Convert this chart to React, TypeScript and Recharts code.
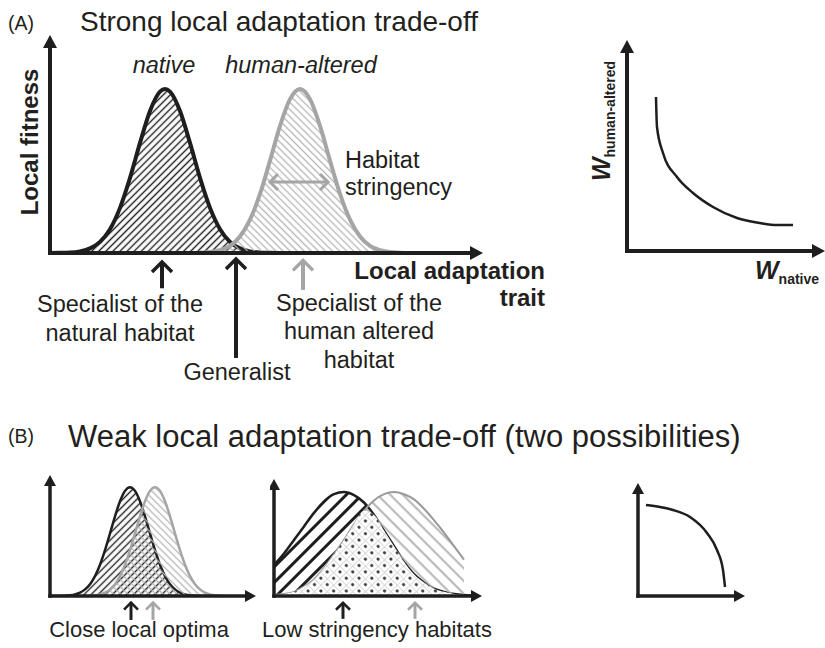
import React from 'react';
import { ComposedChart, Area, Line, XAxis, YAxis, ReferenceLine } from 'recharts';

const INK = '#1e1e1e';
const GREY = '#a5a5a5';
const TEXT = '#231f20';
const FONT = '"Liberation Sans", Arial, Helvetica, sans-serif';

// (A) strong trade-off: local fitness along the trait (trait measured from the y axis)
const traitA = [0, 10, 20, 30, 40, 50, 60, 70, 80, 90, 100, 110, 115, 120, 130, 140, 150, 160, 170, 180, 190, 200, 210, 220, 230, 240, 250, 260, 270, 280, 290, 300, 310, 320, 330, 340, 350, 360];
const nativeA = [0, 0.001, 0.003, 0.01, 0.028, 0.068, 0.145, 0.275, 0.458, 0.671, 0.866, 0.984, 1, 0.984, 0.866, 0.671, 0.458, 0.275, 0.145, 0.068, 0.028, 0.01, 0.003, 0.001, 0, null, null, null, null, null, null, null, null, null, null, null, null, null];
const alteredA = [null, null, null, null, null, null, null, null, null, null, null, null, null, null, null, 0, 0.002, 0.006, 0.017, 0.044, 0.101, 0.203, 0.36, 0.563, 0.775, 0.938, 1, 0.938, 0.775, 0.563, 0.36, 0.203, 0.101, 0.044, 0.017, 0.006, 0.002, 0];
const optimaA = [112, 186, 253]; // native specialist, generalist, human-altered specialist
const stringencyA = [220, 278];

// (A) fitness trade-off curve
const wNativeA = [29, 30, 36, 50, 66, 86, 110, 133, 150, 166];
const wAlteredA = [154, 124, 98, 74, 58, 44, 33, 28, 26, 26];

// (B) close local optima
const traitB1 = [0, 5, 10, 15, 20, 25, 30, 35, 40, 45, 50, 55, 60, 65, 70, 75, 80, 85, 90, 95, 100, 105, 110, 115, 120, 125, 130, 135, 140, 145, 150, 155, 160, 165, 170, 175];
const nativeB1 = [0, 0, 0.001, 0.003, 0.007, 0.015, 0.031, 0.061, 0.109, 0.183, 0.287, 0.421, 0.575, 0.732, 0.871, 0.966, 1, 0.966, 0.871, 0.732, 0.575, 0.421, 0.287, 0.183, 0.109, 0.061, 0.031, 0.015, 0.007, 0.003, 0.001, 0, null, null, null, null];
const alteredB1 = [null, null, null, null, null, null, null, 0.001, 0.003, 0.007, 0.015, 0.031, 0.061, 0.109, 0.183, 0.287, 0.421, 0.575, 0.732, 0.871, 0.966, 1, 0.966, 0.871, 0.732, 0.575, 0.421, 0.287, 0.183, 0.109, 0.061, 0.031, 0.015, 0.007, 0.003, 0.001];
const optimaB1 = [81, 103];

// (B) low stringency habitats
const traitB2 = [0, 10, 20, 30, 40, 50, 60, 70, 80, 90, 100, 110, 120, 130, 140, 150, 160, 170, 180, 190, 200];
const nativeB2 = [0.3, 0.41, 0.54, 0.67, 0.8, 0.91, 0.98, 1, 0.97, 0.9, 0.78, 0.63, 0.48, 0.33, 0.21, 0.13, 0.07, 0.04, 0.02, 0.01, 0];
const alteredB2 = [0.01, 0.02, 0.04, 0.09, 0.16, 0.27, 0.4, 0.54, 0.69, 0.82, 0.92, 0.98, 1, 0.98, 0.93, 0.84, 0.73, 0.61, 0.48, 0.35, null];
const optimaB2 = [69, 141];

// (B) weak trade-off curve
const wNativeB = [8, 22, 35, 52, 69, 79, 85, 87];
const wAlteredB = [91, 89, 86, 79, 63, 46, 26, 9];

const rowsA = traitA.map((t, i) => ({ t, native: nativeA[i], altered: alteredA[i] }));
const rowsB1 = traitB1.map((t, i) => ({ t, native: nativeB1[i], altered: alteredB1[i] }));
const rowsB2 = traitB2.map((t, i) => ({
  t,
  native: nativeB2[i],
  altered: alteredB2[i],
  shared: alteredB2[i] == null ? null : Math.min(nativeB2[i], alteredB2[i] as number),
}));
const curveA = wNativeA.map((w, i) => ({ t: w, h: wAlteredA[i] }));
const curveB = wNativeB.map((w, i) => ({ t: w, h: wAlteredB[i] }));

const Head = ({ id, len, half }: any) => (
  <marker id={id} viewBox={`0 ${-half} ${len} ${2 * half}`} refX={1} refY={0} markerWidth={len} markerHeight={2 * half}
    markerUnits="userSpaceOnUse" orient="auto-start-reverse" overflow="visible">
    <path d={`M0,${-half} L${len},0 L0,${half} Z`} fill={INK} />
  </marker>
);

const Chevron = ({ id, color, len, half, sw }: any) => (
  <marker id={id} viewBox={`0 ${-half} ${len} ${2 * half}`} refX={len} refY={0} markerWidth={len} markerHeight={2 * half}
    markerUnits="userSpaceOnUse" orient="auto-start-reverse" overflow="visible">
    <path d={`M0,${-half} L${len},0 L0,${half}`} fill="none" stroke={color} strokeWidth={sw} />
  </marker>
);

const Hatch = ({ id, color, gap, sw, angle }: any) => (
  <pattern id={id} width={gap} height={gap} patternUnits="userSpaceOnUse" patternTransform={`rotate(${angle})`}>
    <line x1={gap / 2} y1={-1} x2={gap / 2} y2={gap + 1} stroke={color} strokeWidth={sw} />
  </pattern>
);

const Txt = ({ x, y, align = 'center', size = 23.5, style, children }: any) => {
  const tx = align === 'center' ? '-50%' : align === 'right' ? '-100%' : '0';
  return (
    <div style={{ position: 'absolute', left: x, top: y, transform: `translate(${tx}, -50%)`, whiteSpace: 'nowrap', lineHeight: 1, fontSize: size, color: TEXT, ...style }}>
      {children}
    </div>
  );
};

// axes are 1px "thick" areas (a 0-size axis is not drawn), margins are reduced by 1 to compensate
const xAx = (domain: number[], head: string, sw: number) => (
  <XAxis type="number" dataKey="t" domain={domain} allowDataOverflow height={1} tick={false} tickLine={false}
    axisLine={{ stroke: INK, strokeWidth: sw, strokeLinecap: 'square', markerEnd: `url(#${head})` } as any} />
);
const yAx = (domain: number[], head: string, sw: number) => (
  <YAxis type="number" domain={domain} allowDataOverflow width={1} tick={false} tickLine={false}
    axisLine={{ stroke: INK, strokeWidth: sw, strokeLinecap: 'square', markerStart: `url(#${head})` } as any} />
);

const arrow = (x: number, y1: number, y2: number, color: string, sw: number, head: string, key: string) => (
  <ReferenceLine key={key} segment={[{ x, y: y2 }, { x, y: y1 }]} stroke={color} strokeWidth={sw}
    markerEnd={`url(#${head})`} ifOverflow="visible" />
);

export default function App() {
  return (
    <div style={{ position: 'absolute', left: 0, top: 0, width: 825, height: 648, background: '#fff', fontFamily: FONT, overflow: 'hidden' }}>
      <svg width={0} height={0} style={{ position: 'absolute' }}>
        <defs>
          <Head id="headA" len={13} half={7} />
          <Head id="headB" len={11} half={6} />
          <Chevron id="chevK" color={INK} len={10} half={10} sw={3.5} />
          <Chevron id="chevG" color={GREY} len={10} half={10} sw={3.5} />
          <Chevron id="chevG2" color={GREY} len={8} half={8} sw={3} />
          <Chevron id="chevKs" color={INK} len={7} half={7} sw={2.5} />
          <Chevron id="chevGs" color={GREY} len={7} half={7} sw={2.5} />
          <Hatch id="hatchK" color={INK} gap={5} sw={1.4} angle={45} />
          <Hatch id="hatchG" color="#b5b5b5" gap={5} sw={1.3} angle={-45} />
          <Hatch id="hatchK2" color={INK} gap={11} sw={3} angle={45} />
          <Hatch id="hatchG2" color="#ababab" gap={9} sw={1.8} angle={-45} />
          <pattern id="dots" width={9} height={9} patternUnits="userSpaceOnUse" patternTransform="rotate(45)">
            <rect width={9} height={9} fill="#fff" />
            <line x1={0} y1={0} x2={9} y2={0} stroke="#c4c4c4" strokeWidth={1.2} />
            <line x1={0} y1={0} x2={0} y2={9} stroke="#c4c4c4" strokeWidth={1.2} />
            <circle cx={4.5} cy={4.5} r={1.6} fill="#333" />
          </pattern>
        </defs>
      </svg>

      {/* (A) fitness curves */}
      <div style={{ position: 'absolute', left: 0, top: 0 }}>
        <ComposedChart width={560} height={380} data={rowsA} margin={{ top: 47, left: 49, right: 89, bottom: 126 }}>
          {xAx([0, 421], 'headA', 4)}
          {yAx([0, 1.256], 'headA', 4)}
          <Area type="monotone" dataKey="native" stroke={INK} strokeWidth={4} fill="url(#hatchK)" fillOpacity={1} isAnimationActive={false} />
          <Area type="monotone" dataKey="altered" stroke={GREY} strokeWidth={4} fill="url(#hatchG)" fillOpacity={1} isAnimationActive={false} />
          <ReferenceLine segment={[{ x: stringencyA[0], y: 0.433 }, { x: stringencyA[1], y: 0.433 }]} stroke={GREY} strokeWidth={3}
            markerStart="url(#chevG2)" markerEnd="url(#chevG2)" ifOverflow="visible" />
          {arrow(optimaA[0], -0.055, -0.215, INK, 4, 'chevK', 'a0')}
          {arrow(optimaA[1], -0.037, -0.64, INK, 4, 'chevK', 'a1')}
          {arrow(optimaA[2], -0.045, -0.225, GREY, 4, 'chevG', 'a2')}
        </ComposedChart>
      </div>

      {/* (A) trade-off */}
      <div style={{ position: 'absolute', left: 560, top: 0 }}>
        <ComposedChart width={265} height={300} data={curveA} margin={{ top: 52, left: 66, right: 12, bottom: 48 }}>
          {xAx([0, 186], 'headA', 4)}
          {yAx([0, 199], 'headA', 4)}
          <Line type="monotone" dataKey="h" stroke={INK} strokeWidth={2.5} dot={false} isAnimationActive={false} />
        </ComposedChart>
      </div>

      {/* (B) close local optima */}
      <div style={{ position: 'absolute', left: 0, top: 470 }}>
        <ComposedChart width={270} height={175} data={rowsB1} margin={{ top: 15, left: 49, right: 24, bottom: 48 }}>
          {xAx([0, 196], 'headB', 3.5)}
          {yAx([0, 1.02], 'headB', 3.5)}
          <Area type="monotone" dataKey="native" stroke={INK} strokeWidth={2.5} fill="url(#hatchK)" fillOpacity={1} isAnimationActive={false} />
          <Area type="monotone" dataKey="altered" stroke={GREY} strokeWidth={2.5} fill="url(#hatchG)" fillOpacity={1} isAnimationActive={false} />
          {arrow(optimaB1[0], -0.06, -0.22, INK, 3, 'chevKs', 'b0')}
          {arrow(optimaB1[1], -0.06, -0.22, GREY, 3, 'chevGs', 'b1')}
        </ComposedChart>
      </div>

      {/* (B) low stringency habitats */}
      <div style={{ position: 'absolute', left: 270, top: 470 }}>
        <ComposedChart width={230} height={175} data={rowsB2} margin={{ top: 19, left: 3, right: 28, bottom: 48 }}>
          {xAx([0, 198], 'headB', 3.5)}
          {yAx([0, 1.03], 'headB', 3.5)}
          <Area type="monotone" dataKey="native" stroke={INK} strokeWidth={2.5} fill="url(#hatchK2)" fillOpacity={1} isAnimationActive={false} />
          <Area type="monotone" dataKey="altered" stroke="#9a9a9a" strokeWidth={2} fill="url(#hatchG2)" fillOpacity={1} isAnimationActive={false} />
          <Area type="monotone" dataKey="shared" stroke="none" fill="url(#dots)" fillOpacity={1} isAnimationActive={false} />
          {arrow(optimaB2[0], -0.065, -0.22, INK, 3, 'chevKs', 'c0')}
          {arrow(optimaB2[1], -0.065, -0.22, GREY, 3, 'chevGs', 'c1')}
        </ComposedChart>
      </div>

      {/* (B) trade-off */}
      <div style={{ position: 'absolute', left: 600, top: 470 }}>
        <ComposedChart width={160} height={175} data={curveB} margin={{ top: 23, left: 37, right: 25, bottom: 48 }}>
          {xAx([0, 97], 'headB', 3.5)}
          {yAx([0, 103], 'headB', 3.5)}
          <Line type="monotone" dataKey="h" stroke={INK} strokeWidth={2.5} dot={false} isAnimationActive={false} />
        </ComposedChart>
      </div>

      {/* text */}
      <Txt x={8} y={24} align="left" size={19.5}>(A)</Txt>
      <Txt x={80} y={22} align="left" size={28}>Strong local adaptation trade-off</Txt>
      <Txt x={164} y={66} style={{ fontStyle: 'italic' }}>native</Txt>
      <Txt x={301} y={66} style={{ fontStyle: 'italic' }}>human-altered</Txt>
      <div style={{ position: 'absolute', left: 30, top: 142, transform: 'translate(-50%, -50%) rotate(-90deg)', whiteSpace: 'nowrap', lineHeight: 1, fontSize: 24, fontWeight: 700, color: TEXT }}>Local fitness</div>
      <Txt x={345} y={161} align="left">Habitat</Txt>
      <Txt x={345} y={188} align="left">stringency</Txt>
      <Txt x={545} y={271} align="right" size={24} style={{ fontWeight: 700 }}>Local adaptation</Txt>
      <Txt x={545} y={298} align="right" size={24} style={{ fontWeight: 700 }}>trait</Txt>
      <Txt x={120} y={305}>Specialist of the</Txt>
      <Txt x={120} y={334}>natural habitat</Txt>
      <Txt x={237} y={373}>Generalist</Txt>
      <Txt x={359} y={304}>Specialist of the</Txt>
      <Txt x={359} y={332}>human altered</Txt>
      <Txt x={359} y={361}>habitat</Txt>
      <div style={{ position: 'absolute', left: 603, top: 121, transform: 'translate(-50%, -50%) rotate(-90deg)', whiteSpace: 'nowrap', lineHeight: 1, color: TEXT, fontWeight: 700 }}>
        <span style={{ fontSize: 25, fontStyle: 'italic' }}>W</span>
        <span style={{ fontSize: 14, verticalAlign: '-0.3em' }}>human-altered</span>
      </div>
      <div style={{ position: 'absolute', left: 755, top: 272, transform: 'translate(0, -50%)', whiteSpace: 'nowrap', lineHeight: 1, color: TEXT, fontWeight: 700 }}>
        <span style={{ fontSize: 25, fontStyle: 'italic' }}>W</span>
        <span style={{ fontSize: 14, verticalAlign: '-0.3em' }}>native</span>
      </div>

      <Txt x={8} y={437} align="left" size={19.5}>(B)</Txt>
      <Txt x={68} y={436} align="left" size={31}>Weak local adaptation trade-off (two possibilities)</Txt>
      <Txt x={139} y={630} size={22}>Close local optima</Txt>
      <Txt x={377} y={630} size={22}>Low stringency habitats</Txt>
    </div>
  );
}
